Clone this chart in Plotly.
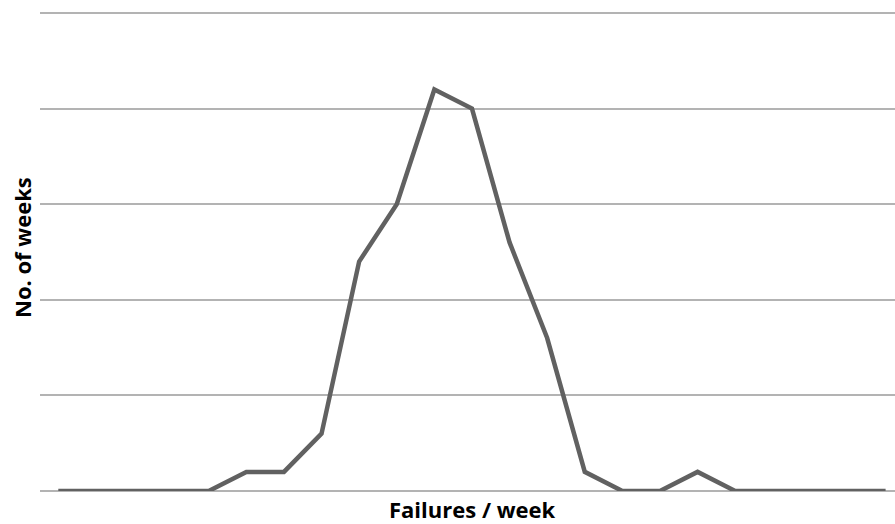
import plotly.graph_objects as go

# Failures per week (category index; tick labels are hidden in the reference)
failures = list(range(23))
weeks = [0, 0, 0, 0, 0, 1, 1, 3, 12, 15, 21, 20, 13, 8, 1, 0, 0, 1, 0, 0, 0, 0, 0]

W, H = 895, 524
L, R, T, B = 40, 0, 7, 33
PLOT_H = H - T - B  # 484
Y_TOP = 25 * PLOT_H / 478.0

fig = go.Figure()
fig.add_trace(go.Scatter(
    x=failures, y=weeks, mode="lines",
    line=dict(color="#616161", width=4.5),
    hoverinfo="skip", showlegend=False,
))

fig.update_layout(
    width=W, height=H,
    margin=dict(l=L, r=R, t=T, b=B),
    paper_bgcolor="white", plot_bgcolor="white",
    xaxis=dict(range=[-0.487, 22.25], showgrid=False, zeroline=False,
               showticklabels=False, ticks="", showline=False),
    yaxis=dict(range=[0, Y_TOP], dtick=5, showgrid=True, gridcolor="#b3b3b3",
               gridwidth=1.5, zeroline=True, zerolinecolor="#b3b3b3",
               zerolinewidth=1.5, showticklabels=False, ticks="", showline=False),
    font=dict(family="Open Sans", color="#000000"),
    annotations=[
        dict(text="<b>Failures / week</b>", xref="paper", yref="paper",
             x=(472 - L) / (W - L - R), y=-(509 - (H - B)) / PLOT_H,
             xanchor="center", yanchor="middle", showarrow=False,
             font=dict(size=22, family="Open Sans", color="#000")),
        dict(text="<b>No. of weeks</b>", xref="paper", yref="paper",
             x=-(L - 22) / (W - L - R), y=(H - B - 248) / PLOT_H,
             xanchor="center", yanchor="middle", showarrow=False, textangle=-90,
             font=dict(size=22, family="Open Sans", color="#000")),
    ],
)

fig.write_html(
    "out.html",
    config={"displayModeBar": False},
    post_script="document.body.style.margin='0';document.body.style.overflow='hidden';",
)
